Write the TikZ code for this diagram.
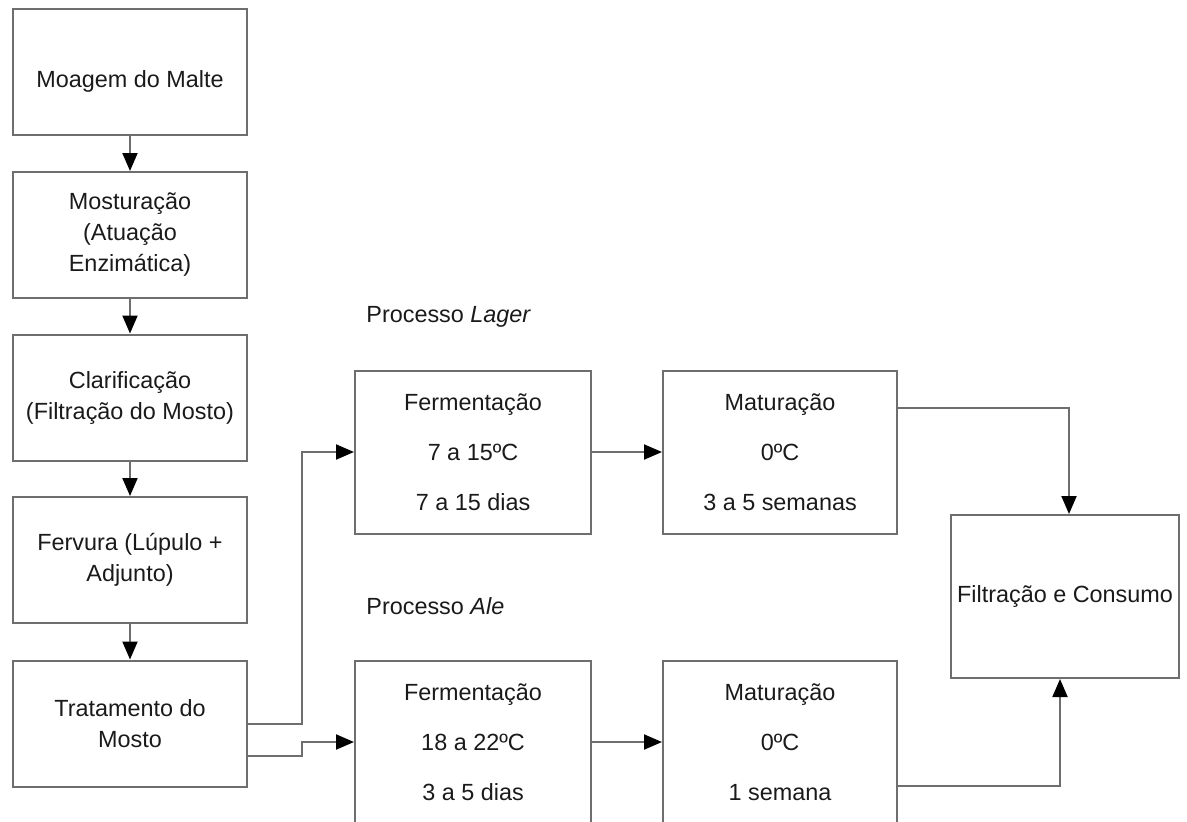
\documentclass[tikz,border=0pt]{standalone}
\usepackage{fontspec}
\setmainfont{Liberation Sans}
\usetikzlibrary{arrows.meta,calc}
\definecolor{linegray}{HTML}{6E6E6E}
\definecolor{txt}{HTML}{1A1A1A}
\begin{document}
\begin{tikzpicture}[x=0.5pt,y=-0.5pt,
  box/.style={draw=linegray,line width=1pt,minimum width=117pt,minimum height=63pt,
    align=center,inner sep=0pt,text=txt,font=\fontsize{11.7}{15.5}\selectfont},
  procbox/.style={box,minimum width=118pt,minimum height=81.5pt,font=\fontsize{11.7}{25}\selectfont},
  endbox/.style={box,minimum width=114pt,minimum height=81.5pt},
  caption/.style={anchor=west,inner sep=0pt,text=txt,font=\fontsize{11.7}{14}\selectfont},
  flow/.style={draw=linegray,line width=1pt,-{Triangle[length=9pt,width=7.5pt,color=black]}}]
\useasboundingbox (0,0) rectangle (1187,821);
\clip (0,0) rectangle (1187,821);

% left column
\node[box] (moagem) at (130,72) {\raisebox{-4.5pt}[\height][\depth]{Moagem do Malte}};
\node[box] (mostura) at (130,235) {Mosturação\\(Atuação\\Enzimática)};
\node[box] (clarif) at (130,397.5) {Clarificação\\(Filtração do Mosto)};
\node[box] (fervura) at (130,560) {Fervura (Lúpulo +\\Adjunto)};
\node[box] (trat) at (130,723.5) {Tratamento do\\Mosto};

% process labels
\node[caption] (lagerlbl) at (366,317) {Processo \textit{Lager}};
\node[caption] (alelbl) at (366,606) {Processo \textit{Ale}};

% lager row
\node[procbox] (fl) at (473,452) {Fermentação\\7 a 15ºC\\7 a 15 dias};
\node[procbox,minimum width=117pt] (ml) at (780,452) {Maturação\\0ºC\\3 a 5 semanas};

% ale row
\node[procbox] (fa) at (473,742) {Fermentação\\18 a 22ºC\\3 a 5 dias};
\node[procbox,minimum width=117pt] (ma) at (780,742) {Maturação\\0ºC\\1 semana};

% end
\node[endbox] (filt) at (1065,596.5) {Filtração e Consumo};

% connectors
\draw[flow] (moagem) -- (mostura);
\draw[flow] (mostura) -- (clarif);
\draw[flow] (clarif) -- (fervura);
\draw[flow] (fervura) -- (trat);
\draw[flow] (trat.east) -- ++(54,0) |- (fl.west);
\draw[flow] ([yshift=-16pt]trat.east) -- ++(54,0) |- (fa.west);
\draw[flow] (fl) -- (ml);
\draw[flow] (fa) -- (ma);
\draw[flow] ([yshift=22pt]ml.east) -| ([xshift=2pt]filt.north);
\draw[flow] ([yshift=-22pt]ma.east) -| ([xshift=-2.5pt]filt.south);
\end{tikzpicture}
\end{document}
